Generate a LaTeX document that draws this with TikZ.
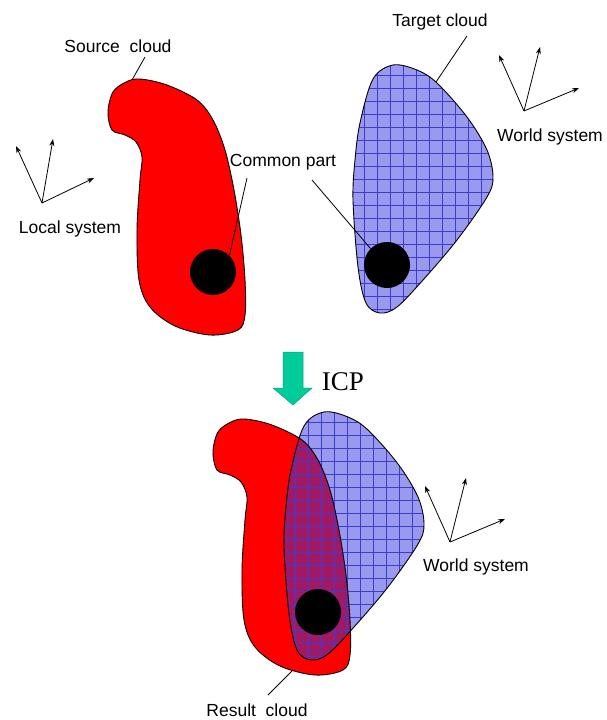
\documentclass[tikz,border=0pt]{standalone}
\usepackage{fontspec}
\setmainfont{Liberation Sans}
\newfontfamily\icpfont{Liberation Serif}
\usetikzlibrary{arrows.meta}
\definecolor{cloudred}{RGB}{255,0,0}
\definecolor{lilac}{RGB}{153,153,238}
\definecolor{gridblue}{RGB}{60,60,210}
\definecolor{overlapcol}{RGB}{160,25,100}
\definecolor{icpgreen}{RGB}{0,204,153}
\tikzset{
  srcshape/.style={insert path={plot[smooth cycle, tension=0.55] coordinates {
    (140,79) (167,85) (197,100) (213,120) (225,150) (234,190) (241,235) (245,280) (245,315) (238,330)
    (210,335) (175,326) (150,307) (139,280) (137,230) (140,180) (142,157) (136,142) (125,135)
    (112,130) (108,112) (113,92) (126,82)}}},
  tgtshape/.style={insert path={plot[smooth cycle, tension=0.55] coordinates {
    (393,65) (417,70) (437,83) (467,117) (487,150) (493,177) (487,197) (457,240) (423,280)
    (397,307) (380,313) (366,303) (358,267) (353,200) (355,160) (360,123) (373,79)}}},
  outline/.style={draw=black, line width=0.9pt},
  gridline/.style={draw=gridblue, line width=0.6pt},
  leader/.style={draw=black, line width=0.8pt},
  axis/.style={draw=black, line width=0.8pt, -{Stealth[length=7pt,width=5pt]}},
  lbl/.style={font=\fontsize{17.5}{20}\selectfont, inner sep=0pt, anchor=base},
  dot/.style={circle, fill=black, inner sep=0pt, minimum size=46pt},
}
\def\tgtgrid{%
  \foreach \gx in {351.3,364.3,...,500} {\draw[gridline] (\gx,55) -- (\gx,320);}%
  \foreach \gy in {62.3,75.3,...,320} {\draw[gridline] (345,\gy) -- (500,\gy);}%
}
\begin{document}
\begin{tikzpicture}[x=1pt,y=-1pt]
\useasboundingbox (0,0) rectangle (607,720);

% ---------- top: source cloud ----------
\fill[cloudred, srcshape];
\draw[outline, srcshape];
\node[dot] (srcdot) at (213,272) {};

% ---------- top: target cloud ----------
\fill[lilac, tgtshape];
\begin{scope}
  \clip[tgtshape];
  \tgtgrid
\end{scope}
\draw[outline, tgtshape];
\node[dot] (tgtdot) at (387,265) {};

% ---------- labels top ----------
\node[lbl] (srclbl) at (118,52) {Source\ \ cloud};
\coordinate (srcl1) at (145,57);
\coordinate (srcl2) at (132,80);
\draw[leader] (srcl1) -- (srcl2);

\node[lbl] (tgtlbl) at (440,26) {Target cloud};
\coordinate (tgtl1) at (467,36);
\coordinate (tgtl2) at (436,82);
\draw[leader] (tgtl1) -- (tgtl2);

\node[lbl] (cplbl) at (283,166) {Common part};
\coordinate (cp1) at (247,178);
\coordinate (cp2) at (312,180);
\draw[leader] (cp1) -- (srcdot.north east);
\draw[leader] (cp2) -- (tgtdot.north west);

% local system
\coordinate (lo) at (42,203);
\coordinate (lx1) at (16,146);
\coordinate (lx2) at (53,139);
\coordinate (lx3) at (94,178);
\draw[axis] (lo) -- (lx1);
\draw[axis] (lo) -- (lx2);
\draw[axis] (lo) -- (lx3);
\node[lbl] (loclbl) at (70,233) {Local system};

% world system (top)
\coordinate (wo) at (524,111);
\coordinate (wx1) at (499,55);
\coordinate (wx2) at (540,47);
\coordinate (wx3) at (579,88);
\draw[axis] (wo) -- (wx1);
\draw[axis] (wo) -- (wx2);
\draw[axis] (wo) -- (wx3);
\node[lbl] (wlbl) at (550,141) {World system};

% ---------- ICP arrow ----------
\fill[icpgreen, draw=icpgreen!80!black, line width=0.5pt]
  (283,352) -- (303,352) -- (303,388) -- (312,388) -- (293,405) -- (273,388) -- (283,388) -- cycle;
\node[font=\icpfont\fontsize{27}{30}\selectfont, inner sep=0pt, anchor=base] (icp) at (343,390) {ICP};

% ---------- bottom: result ----------
\begin{scope}[shift={(105,340)}]
  \fill[cloudred, srcshape];
\end{scope}
\begin{scope}[shift={(-69,347)}]
  \fill[lilac, tgtshape];
\end{scope}
\begin{scope}
  \clip[shift={(105,340)}, srcshape];
  \fill[overlapcol, shift={(-69,347)}, tgtshape];
\end{scope}
\begin{scope}
  \clip[shift={(-69,347)}, tgtshape];
  \begin{scope}[shift={(-69,347)}]
    \tgtgrid
  \end{scope}
\end{scope}
\begin{scope}[shift={(105,340)}]
  \draw[outline, srcshape];
\end{scope}
\begin{scope}[shift={(-69,347)}]
  \draw[outline, tgtshape];
\end{scope}
\node[dot] (resdot) at (318,612) {};

\node[lbl] (reslbl) at (257,716) {Result\ \ cloud};
\coordinate (res1) at (268,695);
\coordinate (res2) at (292,671);
\draw[leader] (res1) -- (res2);

% world system (bottom)
\coordinate (bo) at (450,542);
\coordinate (bx1) at (425,486);
\coordinate (bx2) at (466,478);
\coordinate (bx3) at (505,519);
\draw[axis] (bo) -- (bx1);
\draw[axis] (bo) -- (bx2);
\draw[axis] (bo) -- (bx3);
\node[lbl] (blbl) at (476,571) {World system};
\end{tikzpicture}
\end{document}
